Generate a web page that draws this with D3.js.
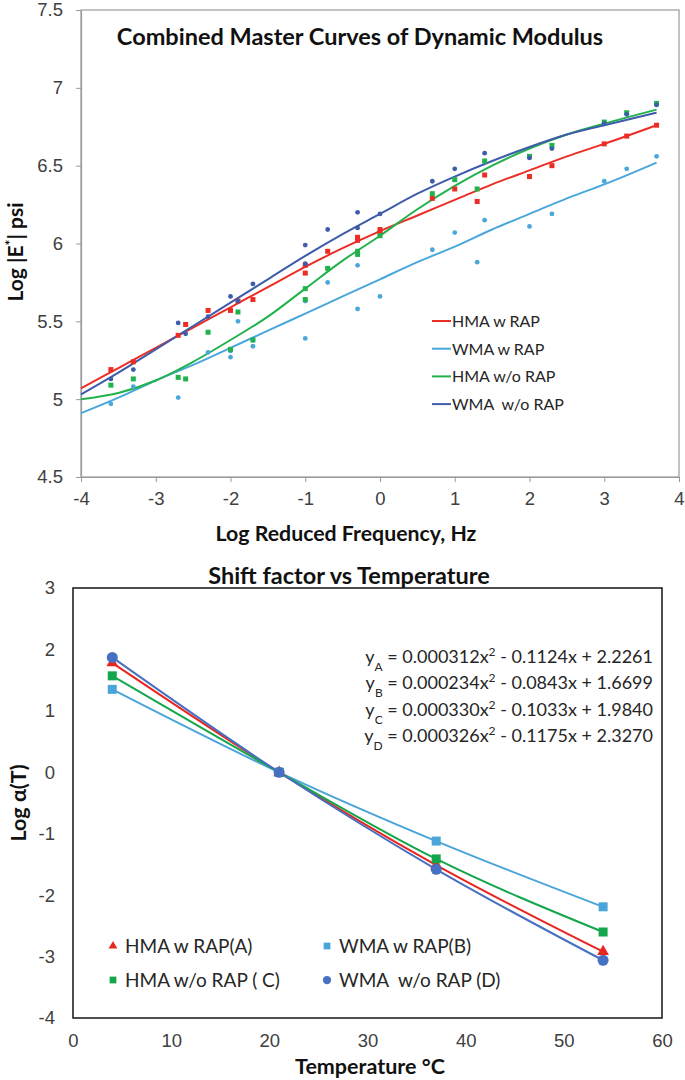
<!DOCTYPE html>
<html>
<head>
<meta charset="utf-8">
<script src="https://cdn.jsdelivr.net/npm/d3@7"></script>
<style>
  body { margin: 0; background: #fff; }
  svg { display: block; font-family: Lato, "Open Sans", sans-serif; }
</style>
</head>
<body>
<svg id="chart" width="685" height="1080"></svg>
<script>
// ---------- top chart data: master curves ----------
const seriesNames = ["HMA w RAP", "WMA w RAP", "HMA w/o RAP", "WMA  w/o RAP"];
const seriesColors = ["#ec2d26", "#4aa7dc", "#22b24c", "#3e5caa"];

// measured points [log reduced frequency, log |E*|]
const hmaRapPts = [[-3.6,5.19],[-3.3,5.24],[-2.7,5.41],[-2.6,5.48],[-2.3,5.57],[-2.0,5.57],[-1.9,5.63],[-1.7,5.64],[-1.0,5.86],[-1.0,5.81],[-0.7,5.95],[-0.3,6.04],[-0.3,6.02],[0.0,6.09],[0.0,6.07],[0.7,6.29],[1.0,6.35],[1.3,6.27],[1.4,6.44],[2.0,6.43],[2.3,6.50],[3.0,6.64],[3.3,6.69],[3.7,6.76]];
const wmaRapPts = [[-3.6,4.97],[-3.3,5.08],[-2.7,5.01],[-2.3,5.30],[-2.0,5.27],[-2.0,5.31],[-1.9,5.50],[-1.7,5.34],[-1.7,5.38],[-1.0,5.39],[-1.0,5.63],[-0.7,5.75],[-0.3,5.86],[-0.3,5.58],[0.0,5.66],[0.7,5.96],[1.0,6.07],[1.3,5.88],[1.4,6.15],[2.0,6.11],[2.3,6.19],[3.0,6.40],[3.3,6.48],[3.7,6.56]];
const hmaNoRapPts = [[-3.6,5.09],[-3.3,5.13],[-2.7,5.14],[-2.6,5.13],[-2.3,5.43],[-2.0,5.32],[-1.9,5.56],[-1.7,5.38],[-1.0,5.71],[-1.0,5.64],[-0.7,5.84],[-0.3,5.95],[-0.3,5.93],[0.0,6.05],[0.7,6.32],[1.0,6.41],[1.3,6.35],[1.4,6.53],[2.0,6.56],[2.3,6.63],[3.0,6.78],[3.3,6.84],[3.7,6.90]];
const wmaNoRapPts = [[-3.6,5.13],[-3.3,5.19],[-2.7,5.49],[-2.6,5.42],[-2.3,5.53],[-2.0,5.66],[-1.9,5.63],[-1.7,5.74],[-1.0,5.99],[-1.0,5.87],[-0.7,6.09],[-0.3,6.20],[-0.3,6.10],[0.0,6.19],[0.7,6.40],[1.0,6.48],[1.4,6.58],[2.0,6.55],[2.3,6.61],[3.0,6.77],[3.3,6.83],[3.7,6.89]];

// fitted master curves
const curveX = [-4,-3.5,-3,-2.5,-2,-1.5,-1,-0.5,0,0.5,1,1.5,2,2.5,3,3.7];
const hmaRapFit   = [5.07,5.20,5.33,5.46,5.59,5.72,5.85,5.97,6.08,6.18,6.28,6.38,6.47,6.56,6.64,6.76];
const wmaRapFit   = [4.91,5.01,5.12,5.22,5.33,5.44,5.55,5.66,5.77,5.88,5.98,6.09,6.19,6.29,6.38,6.52];
const hmaNoRapFit = [5.00,5.04,5.12,5.24,5.38,5.53,5.71,5.89,6.05,6.22,6.37,6.50,6.61,6.70,6.77,6.86];
const wmaNoRapFit = [5.03,5.17,5.32,5.47,5.62,5.77,5.92,6.06,6.19,6.32,6.43,6.53,6.62,6.70,6.76,6.84];

const topXTicks = [-4,-3,-2,-1,0,1,2,3,4];
const topYTicks = [4.5,5,5.5,6,6.5,7,7.5];

// ---------- bottom chart data: shift factors ----------
const temps = [4, 21, 37, 54];
const shiftA = [1.78, 0, -1.51, -2.92];
const shiftB = [1.35, 0, -1.12, -2.19];
const shiftC = [1.57, 0, -1.41, -2.60];
const shiftD = [1.87, 0, -1.58, -3.06];
const shiftNames = ["HMA w RAP(A)", "WMA w RAP(B)", "HMA w/o RAP ( C)", "WMA  w/o RAP (D)"];
const shiftColors = ["#e8261f", "#4aa5d9", "#14a64c", "#4670c2"];
const shiftShapes = ["triangle", "square", "square", "circle"];
const equations = [
  ["A", "0.000312", "0.1124", "2.2261"],
  ["B", "0.000234", "0.0843", "1.6699"],
  ["C", "0.000330", "0.1033", "1.9840"],
  ["D", "0.000326", "0.1175", "2.3270"]
];
const botXTicks = [0,10,20,30,40,50,60];
const botYTicks = [-4,-3,-2,-1,0,1,2,3];

const svg = d3.select("#chart");
const tickColor = "#404040";
const plainNum = d => String(d); // hyphen minus like Excel

drawMasterCurves();
drawShiftFactor();

function drawMasterCurves() {
    const x = d3.scaleLinear().domain([-4, 4]).range([81, 679]);
    const y = d3.scaleLinear().domain([4.5, 7.5]).range([477, 10]);
    const g = svg.append("g");

    // plot frame
    g.append("rect")
        .attr("x", x(-4)).attr("y", y(7.5))
        .attr("width", x(4) - x(-4)).attr("height", y(4.5) - y(7.5))
        .attr("fill", "none").attr("stroke", "#9a9a9a").attr("stroke-width", 1.2);

    const xAxis = g.append("g")
        .attr("transform", `translate(0,${y(4.5)})`)
        .call(d3.axisBottom(x).tickValues(topXTicks).tickFormat(plainNum).tickSize(5).tickPadding(10).tickSizeOuter(0));
    const yAxis = g.append("g")
        .attr("transform", `translate(${x(-4)},0)`)
        .call(d3.axisLeft(y).tickValues(topYTicks).tickFormat(plainNum).tickSize(5).tickPadding(13).tickSizeOuter(0));
    [xAxis, yAxis].forEach(a => {
        a.select(".domain").attr("stroke", "#9a9a9a").attr("stroke-width", 1.2);
        a.selectAll(".tick line").attr("stroke", "#9a9a9a");
        a.selectAll("text").attr("fill", tickColor).style("font-size", "18.5px");
    });

    const pts = [hmaRapPts, wmaRapPts, hmaNoRapPts, wmaNoRapPts];
    const fits = [hmaRapFit, wmaRapFit, hmaNoRapFit, wmaNoRapFit];
    const line = d3.line()
        .x(d => x(d[0]))
        .y(d => y(d[1]))
        .curve(d3.curveMonotoneX);

    fits.forEach((f, i) => {
        g.append("path")
            .datum(curveX.map((cx, k) => [cx, f[k]]))
            .attr("fill", "none")
            .attr("stroke", seriesColors[i])
            .attr("stroke-width", 2)
            .attr("d", line);
    });

    pts.forEach((p, i) => {
        if (i % 2 === 0) {
            // squares for HMA
            g.selectAll(null).data(p).enter().append("rect")
                .attr("x", d => x(d[0]) - 2.5).attr("y", d => y(d[1]) - 2.5)
                .attr("width", 5).attr("height", 5)
                .attr("fill", seriesColors[i]);
        } else {
            g.selectAll(null).data(p).enter().append("circle")
                .attr("cx", d => x(d[0])).attr("cy", d => y(d[1]))
                .attr("r", 2.4)
                .attr("fill", seriesColors[i]);
        }
    });

    // legend
    const leg = g.append("g");
    seriesNames.forEach((n, i) => {
        const ly = 321 + i * 27.7;
        leg.append("line")
            .attr("x1", 432).attr("x2", 451).attr("y1", ly).attr("y2", ly)
            .attr("stroke", seriesColors[i]).attr("stroke-width", 2);
        leg.append("text")
            .attr("x", 452).attr("y", ly + 6)
            .attr("fill", "#262626")
            .style("font-size", "16px")
            .style("white-space", "pre")
            .text(n);
    });

    // title and axis labels
    g.append("text")
        .attr("x", 360).attr("y", 45)
        .attr("text-anchor", "middle")
        .style("font-size", "23.5px").style("font-weight", "bold")
        .attr("fill", "#111")
        .text("Combined Master Curves of Dynamic Modulus");
    g.append("text")
        .attr("x", 346).attr("y", 541)
        .attr("text-anchor", "middle")
        .style("font-size", "21.3px").style("font-weight", "bold")
        .attr("fill", "#111")
        .text("Log Reduced Frequency, Hz");
    const yl = g.append("text")
        .attr("transform", "translate(23,252) rotate(-90)")
        .attr("text-anchor", "middle")
        .style("font-size", "21px").style("font-weight", "bold")
        .attr("fill", "#111");
    yl.append("tspan").text("Log |E");
    yl.append("tspan").attr("baseline-shift", "super").style("font-size", "14px").text("*");
    yl.append("tspan").text("| psi");
}

function drawShiftFactor() {
    const x = d3.scaleLinear().domain([0, 60]).range([73, 662]);
    const y = d3.scaleLinear().domain([-4, 3]).range([1018, 588]);
    const g = svg.append("g");

    g.append("rect")
        .attr("x", x(0)).attr("y", y(3))
        .attr("width", x(60) - x(0)).attr("height", y(-4) - y(3))
        .attr("fill", "none").attr("stroke", "#222").attr("stroke-width", 1.6);

    const xAxis = g.append("g")
        .attr("transform", `translate(0,${y(-4)})`)
        .call(d3.axisBottom(x).tickValues(botXTicks).tickFormat(plainNum).tickSize(0).tickPadding(16));
    const yAxis = g.append("g")
        .attr("transform", `translate(${x(0)},0)`)
        .call(d3.axisLeft(y).tickValues(botYTicks).tickFormat(plainNum).tickSize(0).tickPadding(18));
    [xAxis, yAxis].forEach(a => {
        a.select(".domain").remove();
        a.selectAll("text").attr("fill", tickColor).style("font-size", "18.5px");
    });

    const series = [shiftA, shiftB, shiftC, shiftD];
    const line = d3.line()
        .x(d => x(d[0]))
        .y(d => y(d[1]))
        .curve(d3.curveMonotoneX);

    series.forEach((s, i) => {
        const data = temps.map((t, k) => [t, s[k]]);
        g.append("path")
            .datum(data)
            .attr("fill", "none")
            .attr("stroke", shiftColors[i])
            .attr("stroke-width", 2)
            .attr("d", line);
    });
    series.forEach((s, i) => {
        const data = temps.map((t, k) => [t, s[k]]);
        drawMarkers(g, data, shiftShapes[i], shiftColors[i], x, y);
    });

    // equations
    equations.forEach((e, i) => {
        const t = g.append("text")
            .attr("x", 653).attr("y", 663 + i * 26.3)
            .attr("text-anchor", "end")
            .attr("fill", "#262626")
            .style("font-size", "18px");
        t.append("tspan").text("y");
        t.append("tspan").attr("baseline-shift", "sub").style("font-size", "12px").text(e[0]);
        t.append("tspan").text(` = ${e[1]}x`);
        t.append("tspan").attr("baseline-shift", "super").style("font-size", "12px").text("2");
        t.append("tspan").text(` - ${e[2]}x + ${e[3]}`);
    });

    // legend
    shiftNames.forEach((n, i) => {
        const col = i % 2, row = Math.floor(i / 2);
        const mx = col === 0 ? 113 : 327;
        const my = 946 + row * 34;
        drawMarkers(g, [[0, 0]], shiftShapes[i], shiftColors[i], () => mx, () => my, 0.75);
        g.append("text")
            .attr("x", mx + 12).attr("y", my + 7)
            .attr("fill", "#262626")
            .style("font-size", "19px")
            .style("white-space", "pre")
            .text(n);
    });

    g.append("text")
        .attr("x", 349).attr("y", 584)
        .attr("text-anchor", "middle")
        .style("font-size", "23.5px").style("font-weight", "bold")
        .attr("fill", "#111")
        .text("Shift factor vs Temperature");
    g.append("text")
        .attr("x", 370).attr("y", 1074)
        .attr("text-anchor", "middle")
        .style("font-size", "21.5px").style("font-weight", "bold")
        .attr("fill", "#111")
        .text("Temperature °C");
    g.append("text")
        .attr("transform", `translate(26,${(y(3) + y(-4)) / 2}) rotate(-90)`)
        .attr("text-anchor", "middle")
        .style("font-size", "21.5px").style("font-weight", "bold")
        .attr("fill", "#111")
        .text("Log α(T)");
}

function drawMarkers(g, data, shape, color, x, y, scale = 1) {
    if (shape === "circle") {
        g.selectAll(null).data(data).enter().append("circle")
            .attr("cx", d => x(d[0])).attr("cy", d => y(d[1]))
            .attr("r", 5.5 * scale).attr("fill", color);
    } else if (shape === "square") {
        const s = 9 * scale;
        g.selectAll(null).data(data).enter().append("rect")
            .attr("x", d => x(d[0]) - s / 2).attr("y", d => y(d[1]) - s / 2)
            .attr("width", s).attr("height", s).attr("fill", color);
    } else {
        const sym = d3.symbol().type(d3.symbolTriangle).size(60 * scale * scale);
        g.selectAll(null).data(data).enter().append("path")
            .attr("transform", d => `translate(${x(d[0])},${y(d[1])})`)
            .attr("d", sym).attr("fill", color);
    }
}
</script>
</body>
</html>
